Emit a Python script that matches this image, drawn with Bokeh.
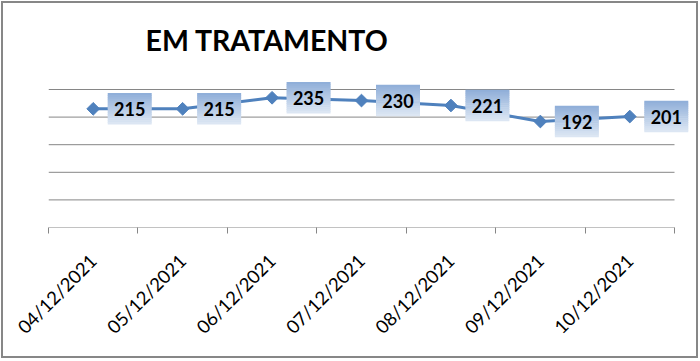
import numpy as np
from bokeh.plotting import figure
from bokeh.models import Range1d, FixedTicker, LinearAxis, Title, ColumnDataSource
from bokeh.core.properties import value
from bokeh.embed import file_html
from bokeh.resources import INLINE

# ---- data ----
dates = ["04/12/2021", "05/12/2021", "06/12/2021", "07/12/2021",
         "08/12/2021", "09/12/2021", "10/12/2021"]
values = [215, 215, 235, 230, 221, 192, 201]
y_ticks = [0, 50, 100, 150, 200, 250]
title_text = "EM TRATAMENTO"

# ---- geometry / style ----
n = len(dates)
CAT_PX = 626 / n                 # pixels per category
PLOT_H = 138                     # pixels from 0 to 250
Y_TOP = 250
EXTRA_TOP, EXTRA_RIGHT = 16, 18  # frame room for labels outside the grid
FRAME_W = 626 + EXTRA_RIGHT
FRAME_H = PLOT_H + EXTRA_TOP
W, H = 697, 357
BL, BT = 45, 86 - EXTRA_TOP
BR = W - BL - FRAME_W
BB = H - BT - FRAME_H
px_y = Y_TOP / PLOT_H            # data units per pixel (y)
px_x = 1 / CAT_PX                # data units per pixel (x)

LINE_COLOR = "#4F81BD"
GRID_COLOR = "#868686"

p = figure(width=W, height=H, output_backend="svg", toolbar_location=None,
           x_range=Range1d(0, FRAME_W * px_x), y_range=Range1d(0, FRAME_H * px_y),
           min_border_left=BL, min_border_right=BR,
           min_border_top=BT, min_border_bottom=BB)
p.styles = {"border": "2px solid #878787", "margin": "1px"}
p.outline_line_color = None
p.background_fill_color = "white"
p.border_fill_color = "white"

p.add_layout(Title(text=title_text, align="left", offset=97,
                   text_font="Lato", text_font_size="28.5px",
                   text_font_style="bold", text_color="black", standoff=33), "above")

# y: no axis, gridlines drawn over the category span only
p.yaxis.visible = False
p.ygrid.grid_line_color = None
p.xgrid.grid_line_color = None
p.segment(x0=[0] * len(y_ticks), y0=y_ticks, x1=[n] * len(y_ticks), y1=y_ticks,
          line_color=GRID_COLOR, line_width=1)

# x axis 1: boundary ticks, no labels
ax1 = p.xaxis[0]
ax1.ticker = FixedTicker(ticks=list(range(n + 1)))
ax1.major_label_overrides = {i: "" for i in range(n + 1)}
ax1.major_label_text_font_size = "0px"
ax1.major_label_standoff = 0
ax1.major_tick_in = 0
ax1.major_tick_out = 6
ax1.minor_tick_line_color = None
ax1.axis_line_color = None
ax1.major_tick_line_color = GRID_COLOR

# x axis 2: category labels at centres
xs = [i + 0.5 for i in range(n)]
ax2 = LinearAxis(ticker=FixedTicker(ticks=xs),
                 major_label_overrides={x: d for x, d in zip(xs, dates)},
                 major_label_orientation=np.pi / 4,
                 major_label_text_font="Lato", major_label_text_font_size="18.5px",
                 major_label_text_color="black", major_label_standoff=18,
                 axis_line_color=None, major_tick_line_color=None,
                 minor_tick_line_color=None)
p.add_layout(ax2, "below")

# line + markers
src = ColumnDataSource(dict(x=xs, y=values))
p.line("x", "y", source=src, line_color=LINE_COLOR, line_width=3)
p.scatter("x", "y", source=src, marker="square", angle=np.pi / 4, size=9,
          fill_color=LINE_COLOR, line_color=LINE_COLOR)

# gradient label boxes
BOX_W, BOX_H, BOX_DX = 44, 31, 36.5
NS = 16
top = np.array([0x8E, 0xAD, 0xD8])
bot = np.array([0xDE, 0xE8, 0xF4])
gx, gy, gc = [], [], []
for x, v in zip(xs, values):
    for k in range(NS):
        t = (k + 0.5) / NS
        off_px = BOX_H / 2 - t * BOX_H
        c = top + (bot - top) * t
        gx.append(x + BOX_DX * px_x)
        gy.append(v + off_px * px_y)
        gc.append("#%02x%02x%02x" % tuple(int(round(u)) for u in c))
p.rect(gx, gy, width=BOX_W, height=BOX_H / NS + 0.6, width_units="screen",
       height_units="screen", fill_color=gc, line_color=None)

p.text([x + BOX_DX * px_x for x in xs], values, text=[str(v) for v in values],
       text_font=value("Lato"), text_font_style="bold", text_font_size="18px",
       text_color="black", text_align="center", text_baseline="middle")

open("out.html", "w").write(file_html(p, INLINE))
